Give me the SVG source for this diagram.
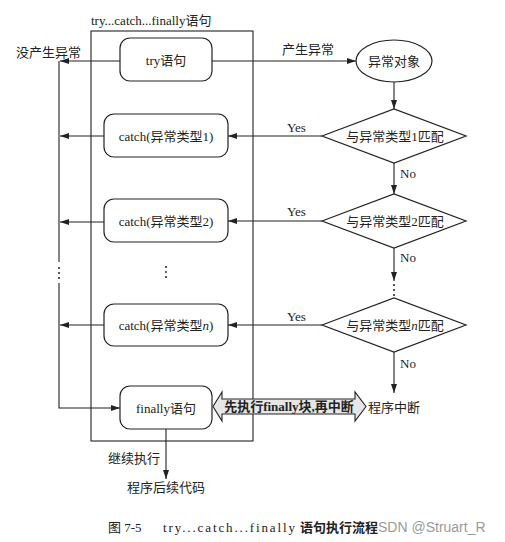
<svg xmlns="http://www.w3.org/2000/svg" width="505" height="542" viewBox="0 0 505 542">
<style>
text{font-family:"Liberation Serif","Noto Sans CJK SC",serif;font-size:13px;fill:#222}
.c{text-anchor:middle}
.box{fill:#fff;stroke:#222;stroke-width:1.2}
.ln{fill:none;stroke:#222;stroke-width:1.1}
.dot{fill:#222}
</style>
<defs>
<marker id="ah" markerWidth="9" markerHeight="6" refX="9" refY="3" orient="auto" markerUnits="userSpaceOnUse">
<path d="M0,0 L9,3 L0,6 Z" fill="#222"/>
</marker>
</defs>
<rect width="505" height="542" fill="#fff"/>

<g id="outer">
<rect x="91" y="31" width="162" height="410" fill="none" stroke="#222" stroke-width="1.1"/>
<text x="91" y="25">try...catch...finally语句</text>
</g>

<g id="connectors">
<!-- left return lines -->
<line class="ln" x1="120" y1="61" x2="60" y2="61" marker-end="url(#ah)"/>
<line class="ln" x1="104" y1="136" x2="60" y2="136" marker-end="url(#ah)"/>
<line class="ln" x1="104" y1="222" x2="60" y2="222" marker-end="url(#ah)"/>
<line class="ln" x1="104" y1="325" x2="60" y2="325" marker-end="url(#ah)"/>
<line class="ln" x1="59" y1="61" x2="59" y2="262"/>
<circle class="dot" cx="59" cy="268" r="1"/>
<circle class="dot" cx="59" cy="273" r="1"/>
<circle class="dot" cx="59" cy="278" r="1"/>
<polyline class="ln" points="59,283 59,408 120,408" marker-end="url(#ah)"/>
<!-- try to exception object -->
<line class="ln" x1="212" y1="61" x2="356" y2="61" marker-end="url(#ah)"/>
<line class="ln" x1="394" y1="82" x2="394" y2="109" marker-end="url(#ah)"/>
<line class="ln" x1="394" y1="163" x2="394" y2="194" marker-end="url(#ah)"/>
<line class="ln" x1="394" y1="248" x2="394" y2="281" marker-end="url(#ah)"/>
<circle class="dot" cx="394" cy="285" r="1"/>
<circle class="dot" cx="394" cy="290" r="1"/>
<circle class="dot" cx="394" cy="295" r="1"/>
<line class="ln" x1="394" y1="352" x2="394" y2="393" marker-end="url(#ah)"/>
<!-- yes branches -->
<line class="ln" x1="322" y1="136" x2="228" y2="136" marker-end="url(#ah)"/>
<line class="ln" x1="322" y1="221" x2="228" y2="221" marker-end="url(#ah)"/>
<line class="ln" x1="322" y1="325" x2="228" y2="325" marker-end="url(#ah)"/>
<!-- finally down -->
<line class="ln" x1="166" y1="429" x2="166" y2="479" marker-end="url(#ah)"/>
<!-- labels -->
<text x="16" y="57">没产生异常</text>
<text x="282" y="54">产生异常</text>
<text x="287" y="132">Yes</text>
<text x="287" y="216">Yes</text>
<text x="287" y="321">Yes</text>
<text x="400" y="178">No</text>
<text x="400" y="262">No</text>
<text x="400" y="368">No</text>
<text x="108" y="463">继续执行</text>
<!-- center dots -->
<circle class="dot" cx="166" cy="267" r="1"/>
<circle class="dot" cx="166" cy="272" r="1"/>
<circle class="dot" cx="166" cy="277" r="1"/>
</g>

<g id="try">
<rect class="box" x="120" y="38" width="92" height="43" rx="10"/>
<text class="c" x="166" y="65">try语句</text>
</g>
<g id="catch1">
<rect class="box" x="104" y="114" width="124" height="43" rx="10"/>
<text class="c" x="166" y="141">catch(异常类型1)</text>
</g>
<g id="catch2">
<rect class="box" x="104" y="199" width="124" height="43" rx="10"/>
<text class="c" x="166" y="226">catch(异常类型2)</text>
</g>
<g id="catchn">
<rect class="box" x="104" y="304" width="124" height="42" rx="10"/>
<text class="c" x="166" y="330">catch(异常类型<tspan font-style="italic">n</tspan>)</text>
</g>
<g id="finally">
<rect class="box" x="120" y="386" width="92" height="43" rx="10"/>
<text class="c" x="166" y="413">finally语句</text>
</g>

<g id="exobj">
<ellipse class="box" cx="394" cy="61" rx="38" ry="21"/>
<text class="c" x="394" y="66">异常对象</text>
</g>
<g id="match1">
<polygon class="box" points="322,136 394,109 466,136 394,163"/>
<text class="c" x="395" y="141">与异常类型1匹配</text>
</g>
<g id="match2">
<polygon class="box" points="322,221 394,194 466,221 394,248"/>
<text class="c" x="395" y="226">与异常类型2匹配</text>
</g>
<g id="matchn">
<polygon class="box" points="322,325 394,298 466,325 394,352"/>
<text class="c" x="395" y="330">与异常类型<tspan font-style="italic">n</tspan>匹配</text>
</g>

<g id="dblarrow">
<polygon points="213,406.5 222,392 222,399 355,399 355,392 366,406.5 355,421 355,414 222,414 222,421" fill="#e6e6e6" stroke="#222" stroke-width="1.1"/>
<text class="c" x="289" y="411" font-weight="600">先执行finally块,再中断</text>
</g>
<g id="abort">
<text x="368" y="412">程序中断</text>
</g>
<g id="after">
<text x="127" y="492">程序后续代码</text>
</g>

<g id="caption">
<text x="108" y="532">图 7-5</text>
<text x="163" y="532" textLength="132" lengthAdjust="spacing">try...catch...finally</text>
<text x="300" y="532" font-weight="700">语句执行流程</text>
<text x="378" y="532" style="font-family:'Liberation Sans',sans-serif;fill:#9a9a9a;font-size:14px">SDN @Struart_R</text>
</g>
</svg>
